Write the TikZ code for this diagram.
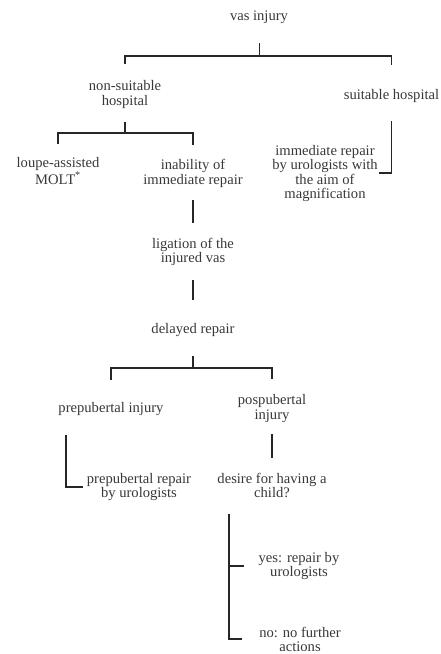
\documentclass[tikz,border=0pt]{standalone}
\usepackage{fontspec}
\setmainfont{Liberation Serif}
\usepackage{tikz}

\tikzset{
  lbl/.style={align=center, inner sep=0pt, anchor=base, text=black!78,
    font=\fontsize{14.6}{14.5}\selectfont},
  bar/.style={draw=black!85, line width=1.8pt},
  stem/.style={draw=black!85, line width=0.6pt}
}

\begin{document}
\begin{tikzpicture}[x=1pt, y=-1pt]
\useasboundingbox (0,0) rectangle (440,654);
% Nodes (placed at the baseline of their last line)
\node[lbl] (vas) at (259,20) {vas injury};
\node[lbl] (nonsuit) at (125,105) {non-suitable\\hospital};
\node[lbl] (suit) at (391.5,99) {suitable hospital};
\node[lbl] (loupe) at (58,184) {loupe-assisted\\MOLT\textsuperscript{*}};
\node[lbl] (inab) at (193,184) {inability of\\immediate repair};
\node[lbl] (immed) at (325,198.5)
  {immediate repair\\by urologists with\\the aim of\\magnification};
\node[lbl] (ligat) at (193,262.5) {ligation of the\\injured vas};
\node[lbl] (delay) at (193,333) {delayed repair};
\node[lbl] (prepinj) at (111,412) {prepubertal injury};
\node[lbl] (postinj) at (272,419) {pospubertal\\injury};
\node[lbl] (preprep) at (139,497.5) {prepubertal repair\\by urologists};
\node[lbl] (desire) at (272,497.5) {desire for having a\\child?};
\node[lbl] (yes) at (299,576.5) {yes: repair by\\urologists};
\node[lbl] (no) at (300,651.5) {no: no further\\actions};
% Junctions
\coordinate (bar1) at (259,56);
\coordinate (bar2) at (125,133);
\coordinate (bar3) at (193,368);
\coordinate (kneeA) at (66,487);
\coordinate (spine) at (229,514);
% Connectors
\draw[stem, shorten <=20pt] (vas.south) -- (bar1);
\draw[bar, shorten <=16pt, shorten >=24pt] (nonsuit.north) |- (bar1) -| (suit.north);
\draw[bar, shorten <=19pt, shorten >=1.5pt] (suit.south) |- (immed.east);
\draw[bar, shorten <=14pt] (nonsuit.south) -- (bar2);
\draw[bar, shorten <=14pt, shorten >=14pt] (loupe.north) |- (bar2) -| (inab.north);
\draw[bar, shorten <=13pt, shorten >=15pt] (inab.south) -- (ligat.north);
\draw[bar, shorten <=14pt, shorten >=23pt] (ligat.south) -- (delay.north);
\draw[bar, shorten <=20pt] (delay.south) -- (bar3);
\draw[bar, shorten <=22pt, shorten >=15pt] (prepinj.north) |- (bar3) -| (postinj.north);
\draw[bar, shorten <=20pt, shorten >=4pt] (prepinj.south -| kneeA) |- (preprep.west);
\draw[bar, shorten <=12pt, shorten >=15pt] (postinj.south) -- (desire.north);
\draw[bar, shorten <=16pt, shorten >=14pt] (desire.south -| spine) |- (yes.west);
\draw[bar, shorten <=66pt, shorten >=17pt] (desire.south -| spine) |- (no.west);
\end{tikzpicture}
\end{document}
